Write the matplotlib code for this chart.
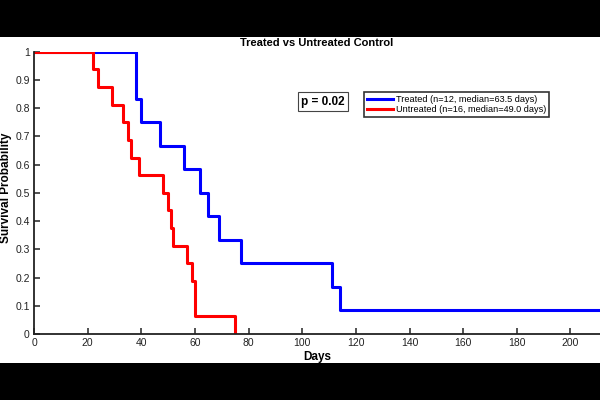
import matplotlib
matplotlib.use("Agg")
import matplotlib.pyplot as plt
from matplotlib.patches import Rectangle

plt.rcParams['font.family'] = ['Liberation Sans', 'DejaVu Sans']

# Kaplan-Meier step data (time, survival after step)
treated_t = [0, 38, 40, 47, 56, 62, 65, 69, 77, 111, 114, 211]
treated_s = [1.0, 0.8333, 0.75, 0.6667, 0.5833, 0.5, 0.4167, 0.3333, 0.25, 0.1667, 0.0833, 0.0833]
untreated_t = [0, 22, 24, 29, 33, 35, 36, 39, 48, 50, 51, 52, 57, 59, 60, 75]
untreated_s = [1.0, 0.9375, 0.875, 0.8125, 0.75, 0.6875, 0.625, 0.5625, 0.5, 0.4375, 0.375, 0.3125, 0.25, 0.1875, 0.0625, 0.0]
treated_label = "Treated (n=12, median=63.5 days)"
untreated_label = "Untreated (n=16, median=49.0 days)"
p_text = "p = 0.02"
title = "Treated vs Untreated Control"

fig = plt.figure(figsize=(6, 4), dpi=100, facecolor='black')
fig.patches.append(Rectangle((0, 0.0925), 1, 0.815, transform=fig.transFigure,
                             facecolor='white', edgecolor='none', zorder=-10))

ax = fig.add_axes([34/600, 66/400, 1 - 34/600, (334-51.7)/400])
ax.set_facecolor('white')
ax.step(treated_t, treated_s, where='post', color='#0000ff', lw=2.2, label=treated_label)
ax.step(untreated_t, untreated_s, where='post', color='#ff0000', lw=2.2, label=untreated_label)

ax.set_xlim(0, 211)
ax.set_ylim(0, 1)
ax.set_xticks(range(0, 201, 20))
ax.set_yticks([0, 0.1, 0.2, 0.3, 0.4, 0.5, 0.6, 0.7, 0.8, 0.9, 1])
ax.set_yticklabels(['0', '0.1', '0.2', '0.3', '0.4', '0.5', '0.6', '0.7', '0.8', '0.9', '1'])
ax.tick_params(direction='in', length=4, width=1.1, labelsize=7.5, colors='#222222', pad=3)
for s in ['top', 'right']:
    ax.spines[s].set_visible(False)
for s in ['left', 'bottom']:
    ax.spines[s].set_linewidth(1.3)
    ax.spines[s].set_color('#222222')

ax.set_title(title, fontsize=8, fontweight='bold', pad=4)
ax.set_xlabel("Days", fontsize=8.5, fontweight='bold')
ax.xaxis.set_label_coords(0.5, -(357-334)/282.3)
ax.xaxis.label.set_va('center')
ax.set_ylabel("Survival Probability", fontsize=8.5, fontweight='bold')
ax.yaxis.set_label_coords(-(34-6)/566, (334-187.5)/282.3)
ax.yaxis.label.set_va('center')

leg = ax.legend(loc='upper left', bbox_to_anchor=((364-34)/566, (334-92)/282.3),
                fontsize=6.6, frameon=True, fancybox=False, handlelength=2.9,
                handletextpad=0.3, borderpad=0.3, labelspacing=0.15, borderaxespad=0)
leg.get_frame().set_edgecolor('black')
leg.get_frame().set_linewidth(1.2)

ax.text((323-34)/566, (334-101.5)/282.3, p_text, transform=ax.transAxes, fontsize=8.5,
        fontweight='bold', ha='center', va='center',
        bbox=dict(boxstyle='square,pad=0.3', facecolor='white', edgecolor='#444444', lw=0.8))

fig.savefig('out.png', dpi=100, facecolor='black')
